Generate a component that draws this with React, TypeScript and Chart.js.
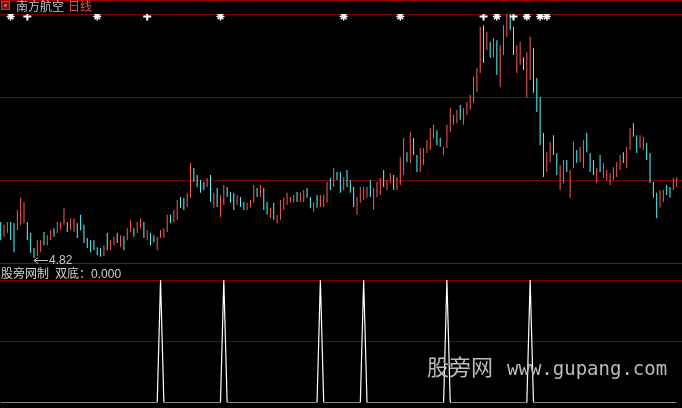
import React, { useEffect, useRef } from 'react';
import { Chart, registerables } from 'chart.js';

Chart.register(...registerables);

// Daily bars: high / low per session, and whether the session closed up.
const HIGHS = [
  5.69, 5.62, 5.69, 5.69, 5.66, 5.98, 6.27, 6.17, 5.69, 5.42,
  5.06, 5.25, 5.25, 5.45, 5.37, 5.49, 5.54, 5.69, 5.69, 6.03,
  5.69, 5.78, 5.78, 5.66, 5.86, 5.62, 5.30, 5.25, 5.25, 5.08,
  5.06, 5.13, 5.42, 5.25, 5.33, 5.42, 5.37, 5.35, 5.54, 5.74,
  5.54, 5.69, 5.78, 5.69, 5.49, 5.42, 5.37, 5.33, 5.49, 5.54,
  5.86, 5.86, 5.98, 6.22, 6.29, 6.27, 6.39, 7.11, 6.99, 6.82,
  6.70, 6.65, 6.75, 6.82, 6.39, 6.51, 6.34, 6.58, 6.53, 6.41,
  6.39, 6.34, 6.29, 6.17, 6.15, 6.22, 6.58, 6.51, 6.58, 6.51,
  6.17, 6.03, 6.15, 5.86, 6.22, 6.27, 6.39, 6.29, 6.34, 6.41,
  6.39, 6.46, 6.51, 6.29, 6.17, 6.34, 6.34, 6.34, 6.65, 6.75,
  6.99, 6.89, 6.89, 6.77, 6.94, 6.70, 6.53, 6.29, 6.53, 6.53,
  6.53, 6.70, 6.51, 6.65, 6.75, 6.94, 6.70, 6.87, 6.82, 6.77,
  7.25, 7.71, 7.37, 7.86, 7.71, 7.30, 7.47, 7.47, 7.66, 7.95,
  8.03, 7.90, 7.71, 7.50, 8.03, 8.43, 8.27, 8.39, 8.51, 8.43,
  8.58, 8.75, 9.18, 9.40, 10.39, 10.43, 10.27, 10.03, 10.12, 10.07,
  9.95, 10.43, 10.70, 10.70, 10.39, 9.95, 10.03, 9.66, 9.78, 10.15,
  9.88, 9.16, 8.70, 7.83, 7.37, 7.62, 7.78, 7.35, 7.06, 7.18,
  7.18, 6.94, 7.62, 7.42, 7.50, 7.66, 7.83, 7.35, 7.18, 6.99,
  7.30, 7.11, 6.94, 6.87, 7.01, 7.13, 7.30, 7.37, 7.50, 7.95,
  8.07, 7.78, 7.78, 7.74, 7.59, 7.35, 6.65, 6.39, 6.46, 6.46,
  6.58, 6.53, 6.75, 6.77,
];

const LOWS = [
  5.25, 5.33, 5.42, 5.25, 4.96, 5.49, 5.62, 5.66, 5.25, 4.94,
  4.82, 4.87, 4.96, 5.13, 5.13, 5.25, 5.33, 5.42, 5.49, 5.62,
  5.45, 5.49, 5.45, 5.30, 5.49, 5.18, 5.06, 4.96, 5.01, 4.89,
  4.85, 4.87, 5.01, 5.01, 5.13, 5.18, 5.08, 5.01, 5.25, 5.45,
  5.33, 5.42, 5.54, 5.30, 5.25, 5.13, 5.20, 5.01, 5.30, 5.30,
  5.45, 5.66, 5.69, 5.74, 6.03, 5.98, 6.05, 6.27, 6.65, 6.53,
  6.39, 6.46, 6.53, 6.17, 6.03, 6.05, 5.81, 6.10, 6.29, 6.15,
  5.98, 6.10, 6.05, 5.98, 5.98, 6.03, 6.15, 6.29, 6.29, 5.98,
  5.86, 5.78, 5.74, 5.66, 5.74, 5.98, 6.10, 6.15, 6.15, 6.17,
  6.17, 6.17, 6.27, 6.03, 5.93, 6.03, 6.05, 6.05, 6.15, 6.46,
  6.53, 6.70, 6.39, 6.46, 6.53, 6.39, 6.05, 5.86, 6.15, 6.22,
  6.27, 6.29, 5.98, 6.29, 6.34, 6.53, 6.46, 6.63, 6.46, 6.46,
  6.58, 6.82, 7.13, 7.11, 7.30, 6.89, 6.89, 7.06, 7.35, 7.42,
  7.71, 7.54, 7.50, 7.30, 7.47, 7.86, 8.03, 8.07, 8.15, 8.03,
  8.27, 8.39, 8.56, 8.82, 9.28, 9.52, 9.83, 9.64, 9.66, 9.23,
  8.94, 9.71, 10.15, 10.31, 9.71, 9.28, 9.47, 9.35, 8.68, 9.11,
  8.80, 8.34, 7.54, 6.77, 6.89, 7.13, 7.30, 6.82, 6.46, 6.63,
  6.89, 6.27, 6.99, 7.11, 7.13, 6.99, 7.37, 6.89, 6.82, 6.63,
  6.89, 6.75, 6.70, 6.58, 6.70, 6.77, 6.94, 7.11, 6.99, 7.42,
  7.74, 7.35, 7.47, 7.42, 7.18, 6.63, 6.27, 5.78, 6.03, 6.17,
  6.34, 6.27, 6.46, 6.53,
];

// 1 = closed up (red), 0 = closed down (cyan)
const UP = [
  0, 1, 1, 0, 0, 1, 1, 1, 0, 0,
  0, 1, 1, 0, 1, 1, 0, 1, 1, 1,
  0, 1, 1, 0, 0, 0, 0, 0, 0, 0,
  0, 1, 0, 1, 1, 0, 1, 0, 1, 1,
  0, 1, 1, 0, 1, 0, 0, 1, 1, 1,
  1, 0, 1, 1, 0, 0, 1, 1, 0, 0,
  0, 0, 1, 0, 1, 0, 1, 1, 0, 0,
  0, 1, 0, 0, 1, 1, 1, 0, 1, 0,
  0, 1, 0, 1, 1, 1, 1, 1, 1, 0,
  1, 1, 0, 0, 1, 0, 1, 1, 1, 0,
  1, 0, 0, 1, 0, 0, 0, 1, 1, 1,
  1, 0, 1, 1, 1, 0, 1, 1, 0, 1,
  1, 1, 0, 1, 0, 0, 1, 1, 1, 1,
  1, 0, 0, 1, 1, 1, 1, 1, 0, 1,
  1, 1, 1, 1, 1, 0, 1, 0, 1, 0,
  1, 1, 1, 0, 0, 1, 1, 0, 1, 1,
  0, 0, 0, 0, 1, 1, 0, 0, 1, 1,
  0, 1, 1, 0, 1, 1, 0, 0, 0, 1,
  0, 1, 1, 1, 1, 1, 1, 0, 1, 1,
  0, 0, 1, 1, 0, 0, 0, 0, 1, 1,
  0, 0, 1, 1,
];

// Price panel range and its horizontal guide levels
const PRICE_MIN = 4.7;
const PRICE_MAX = 10.7;
const PRICE_GRID = [4.7, 6.7, 8.7, 10.7];

// Signal markers along the top of the price panel (bar indices)
const MARK_LEVEL = 10.64;
const STAR_BARS = [3, 29, 66, 103, 120, 149, 158, 162, 164];
const CROSS_BARS = [8, 44, 145, 154];

// Indicator panel: bars where the double-bottom signal fires
const SIGNAL_BARS = [48, 67, 96, 109, 134, 159];
const SIGNAL_GRID = [0.5, 1];

const STOCK_NAME = '南方航空';
const PERIOD = '日线';
const INDICATOR = '股旁网制';
const SIGNAL_NAME = '双底：';
const SIGNAL_LAST = '0.000';
const SITE_CN = '股旁网';
const SITE_URL = 'www.gupang.com';

const RED = '#ff5a5a';
const CYAN = '#54fcfc';
const GRID = '#7a0000';
const GRID_BASE = '#b00000';
const X_MIN = -0.21;
const X_MAX = 204.6;

const lowMarker = {
  id: 'lowMarker',
  afterDatasetsDraw(chart: any) {
    const { ctx, scales } = chart;
    let k = 0;
    LOWS.forEach((v, i) => {
      if (v < LOWS[k]) k = i;
    });
    const px = Math.round(scales.x.getPixelForValue(k));
    const py = Math.round(scales.y.getPixelForValue(LOWS[k])) + 2.5;
    ctx.save();
    ctx.strokeStyle = '#c8c8c8';
    ctx.fillStyle = '#c8c8c8';
    ctx.lineWidth = 1;
    ctx.beginPath();
    ctx.moveTo(px, py);
    ctx.lineTo(px + 14, py);
    ctx.moveTo(px + 4, py - 3);
    ctx.lineTo(px, py);
    ctx.lineTo(px + 4, py + 3);
    ctx.stroke();
    ctx.font = '12px "Liberation Sans", Arial, sans-serif';
    ctx.textBaseline = 'middle';
    ctx.textAlign = 'left';
    ctx.fillText(LOWS[k].toFixed(2), px + 15, py);
    ctx.restore();
  },
};

export default function App() {
  const mainRef = useRef<HTMLCanvasElement>(null);
  const subRef = useRef<HTMLCanvasElement>(null);

  useEffect(() => {
    const candles = HIGHS.map((h, i) => ({ x: i, y: [LOWS[i], h] }));
    const main = new Chart(mainRef.current as HTMLCanvasElement, {
      type: 'bar',
      data: {
        datasets: [
          {
            type: 'bar',
            data: candles as any,
            backgroundColor: UP.map((u) => (u ? RED : CYAN)),
            barThickness: 1,
            inflateAmount: 0,
            borderWidth: 0,
            clip: false as any,
          },
          {
            type: 'scatter',
            data: STAR_BARS.map((i) => ({ x: i, y: MARK_LEVEL })),
            pointStyle: 'star',
            pointRadius: 4,
            borderColor: '#ffffff',
            backgroundColor: '#ffffff',
            borderWidth: 1.5,
          },
          {
            type: 'scatter',
            data: CROSS_BARS.map((i) => ({ x: i, y: MARK_LEVEL })),
            pointStyle: 'cross',
            pointRadius: 4,
            borderColor: '#ffffff',
            backgroundColor: '#ffffff',
            borderWidth: 2,
          },
        ],
      },
      options: {
        animation: false,
        responsive: false,
        events: [],
        layout: { padding: { top: 14, bottom: 3, left: 0, right: 0 }, autoPadding: false },
        plugins: { legend: { display: false }, tooltip: { enabled: false } },
        scales: {
          x: { type: 'linear', min: X_MIN, max: X_MAX, offset: false, display: false },
          y: {
            type: 'linear',
            min: PRICE_MIN,
            max: PRICE_MAX,
            afterBuildTicks: (axis: any) => {
              axis.ticks = PRICE_GRID.map((v) => ({ value: v }));
            },
            ticks: { display: false },
            grid: {
              color: (c: any) => (c.tick && c.tick.value === PRICE_MIN ? GRID_BASE : GRID),
              drawTicks: false,
              lineWidth: 1,
            },
            border: { display: false },
          },
        },
      },
      plugins: [lowMarker],
    } as any);

    const signal = HIGHS.map((_, i) => ({ x: i, y: SIGNAL_BARS.includes(i) ? 1 : 0 }));
    const sub = new Chart(subRef.current as HTMLCanvasElement, {
      type: 'line',
      data: {
        datasets: [
          {
            data: signal,
            borderColor: '#ffffff',
            borderWidth: 1.2,
            pointRadius: 0,
            tension: 0,
          },
        ],
      },
      options: {
        animation: false,
        responsive: false,
        events: [],
        layout: { padding: { top: 14, bottom: 5.5, left: 0, right: 0 }, autoPadding: false },
        plugins: { legend: { display: false }, tooltip: { enabled: false } },
        scales: {
          x: { type: 'linear', min: X_MIN, max: X_MAX, display: false },
          y: {
            type: 'linear',
            min: 0,
            max: 1,
            afterBuildTicks: (axis: any) => {
              axis.ticks = SIGNAL_GRID.map((v) => ({ value: v }));
            },
            ticks: { display: false },
            grid: { color: GRID, drawTicks: false, lineWidth: 1 },
            border: { display: false },
          },
        },
      },
    } as any);

    return () => {
      main.destroy();
      sub.destroy();
    };
  }, []);

  const cjk = '"Noto Sans CJK SC", sans-serif';
  const latin = '"Liberation Sans", Arial, sans-serif';

  return (
    <div
      style={{
        position: 'fixed',
        left: 0,
        top: 0,
        width: 682,
        height: 408,
        background: '#000',
        overflow: 'hidden',
      }}
    >
      <canvas ref={mainRef} width={682} height={266} style={{ position: 'absolute', left: 0, top: 0, display: 'block' }} />
      <canvas ref={subRef} width={682} height={142} style={{ position: 'absolute', left: 0, top: 266, display: 'block' }} />

      {/* frame line above the title row */}
      <div style={{ position: 'absolute', left: 0, top: 0, width: 682, height: 1, background: '#a00000' }} />

      {/* title row */}
      <div
        style={{
          position: 'absolute',
          left: 1,
          top: 1,
          width: 7,
          height: 7,
          border: '1px solid #e03030',
          background: '#701515',
        }}
      >
        <div style={{ position: 'absolute', left: 2, top: 2, width: 3, height: 3, background: '#e04040' }} />
      </div>
      <div
        style={{
          position: 'absolute',
          left: 16,
          top: 0,
          fontFamily: cjk,
          fontSize: 12,
          lineHeight: '12px',
          whiteSpace: 'nowrap',
        }}
      >
        <span style={{ color: '#c4c4c4' }}>{STOCK_NAME}</span>
        <span style={{ color: '#e85050', marginLeft: 4 }}>{PERIOD}</span>
      </div>

      {/* indicator title */}
      <div
        style={{
          position: 'absolute',
          left: 1,
          top: 267,
          fontSize: 12,
          lineHeight: '12px',
          color: '#d0d0d0',
          whiteSpace: 'nowrap',
        }}
      >
        <span style={{ fontFamily: cjk }}>{INDICATOR}</span>
        <span style={{ fontFamily: cjk, marginLeft: 6 }}>{SIGNAL_NAME}</span>
        <span style={{ fontFamily: latin }}>{SIGNAL_LAST}</span>
      </div>

      {/* site mark */}
      <div
        style={{
          position: 'absolute',
          left: 427,
          top: 354,
          fontFamily: cjk,
          fontSize: 22,
          lineHeight: '22px',
          color: '#bcbcbc',
          whiteSpace: 'nowrap',
        }}
      >
        {SITE_CN}
      </div>
      <div
        style={{
          position: 'absolute',
          left: 507,
          top: 359,
          fontFamily: '"DejaVu Sans Mono", monospace',
          fontSize: 19,
          lineHeight: '19px',
          color: '#bcbcbc',
          whiteSpace: 'nowrap',
        }}
      >
        {SITE_URL}
      </div>
    </div>
  );
}
